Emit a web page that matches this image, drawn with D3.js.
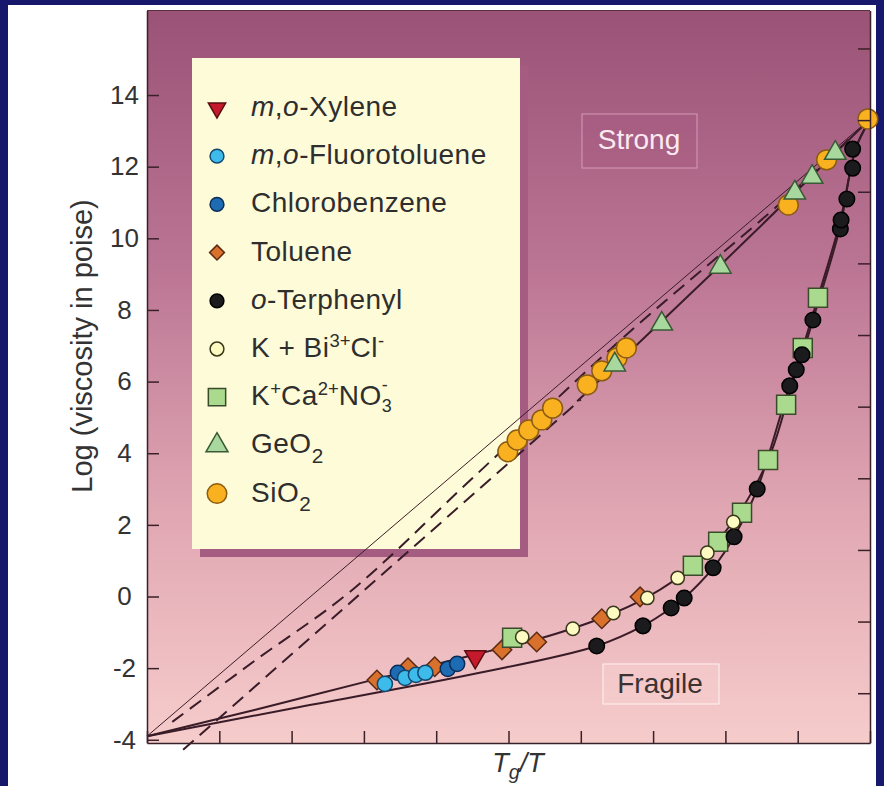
<!DOCTYPE html>
<meta charset="utf-8">
<style>
  body { margin: 0; background: #fff; }
  svg { display: block; }
  text { font-family: "Liberation Sans", Arial, Helvetica, sans-serif; }
</style>
<svg width="884" height="786"></svg>
<script src="https://cdn.jsdelivr.net/npm/d3@7"></script>
<script>

// data: [Tg/T, log viscosity in poise]
var xylene = [[0.454, -1.68]];
var fluorotoluene = [[0.329, -2.44], [0.357, -2.27], [0.372, -2.19], [0.385, -2.13]];
var chlorobenzene = [[0.347, -2.13], [0.416, -2.02], [0.429, -1.88]];
var toluene = [[0.318, -2.33], [0.361, -1.99], [0.398, -1.96], [0.491, -1.49], [0.539, -1.27], [0.629, -0.62], [0.682, -0.01]];
var terphenyl = [[0.622, -1.38], [0.686, -0.82], [0.725, -0.32], [0.743, -0.04], [0.783, 0.80], [0.812, 1.67], [0.844, 3.00],
                 [0.889, 5.88], [0.898, 6.33], [0.906, 6.75], [0.921, 7.72], [0.959, 10.26], [0.960, 10.51], [0.968, 11.10],
                 [0.976, 11.96], [0.976, 12.49]];
var kBiCl = [[0.519, -1.13], [0.589, -0.90], [0.645, -0.46], [0.692, -0.04], [0.734, 0.52], [0.775, 1.22], [0.811, 2.08]];
var kCaNO3 = [[0.505, -1.15], [0.755, 0.86], [0.790, 1.53], [0.823, 2.34], [0.859, 3.81], [0.884, 5.35], [0.907, 6.94], [0.928, 8.34]];
var geo2 = [[0.647, 6.47], [0.712, 7.61], [0.793, 9.20], [0.896, 11.27], [0.920, 11.71], [0.952, 12.38]];
var sio2 = [[0.499, 4.04], [0.512, 4.37], [0.528, 4.65], [0.546, 4.93], [0.561, 5.26], [0.609, 5.91], [0.629, 6.30],
            [0.650, 6.66], [0.663, 6.94], [0.887, 10.93], [0.940, 12.19], [0.997, 13.33]];

// guide curves
var thinLine = [[0, -3.9], [1, 13.33]];
var dashUpper = [[0.035, -3.5], [0.15, -1.78], [0.28, 0.12], [0.45, 3.3], [0.66, 7.25], [0.88, 11.05], [0.97, 12.75]];
var dashLower = [[0.05, -4.28], [0.6, 5.5]];
var strongLine = [[0.595, 5.45], [0.793, 9.25], [0.952, 12.38], [1, 13.33]];
var fragileUpper = [[0, -3.9], [0.15, -3.16], [0.318, -2.3], [0.454, -1.62], [0.539, -1.2], [0.629, -0.6], [0.692, -0.02],
                    [0.755, 0.86], [0.811, 2.1], [0.859, 3.81], [0.884, 5.35], [0.907, 6.94], [0.928, 8.34], [0.959, 10.5],
                    [0.972, 11.8], [0.981, 12.55], [1, 13.33]];
var fragileLower = [[0, -3.9], [0.202, -3.12], [0.46, -2.13], [0.622, -1.38], [0.686, -0.82], [0.725, -0.32], [0.743, -0.04],
                    [0.783, 0.8], [0.812, 1.67], [0.844, 3.0], [0.889, 5.88], [0.906, 6.75], [0.921, 7.72], [0.959, 10.35],
                    [0.972, 11.8], [0.981, 12.55], [1, 13.33]];

var yTicks = [-4, -2, 0, 2, 4, 6, 8, 10, 12, 14];
var yTicksRight = [-2.7, -0.7, 1.3, 3.3, 5.3, 7.3, 9.3, 11.3, 13.3, 15.3];
var xTicks = [0, 0.1, 0.2, 0.3, 0.4, 0.5, 0.6, 0.7, 0.8, 0.9, 1];

var legendLabels = [
    [["m", "i"], [","], ["o", "i"], ["-Xylene"]],
    [["m", "i"], [","], ["o", "i"], ["-Fluorotoluene"]],
    [["Chlorobenzene"]],
    [["Toluene"]],
    [["o", "i"], ["-Terphenyl"]],
    [["K + Bi"], ["3+", "sup"], ["Cl"], ["-", "sup"]],
    [["K"], ["+", "sup"], ["Ca"], ["2+", "sup"], ["NO"], ["3", "sub3"], ["-", "supback"]],
    [["GeO"], ["2", "sub"]],
    [["SiO"], ["2", "sub"]]
];

var svg = d3.select("svg");
var x = d3.scaleLinear().domain([0, 1]).range([147, 870]);
var y = d3.scaleLinear().domain([-4.09, 16.36]).range([743, 10.5]);

// outer frame
svg.append("rect").attr("x", 0).attr("y", 0).attr("width", 884).attr("height", 5).attr("fill", "#17176b");
svg.append("rect").attr("x", 0).attr("y", 0).attr("width", 8).attr("height", 786).attr("fill", "#17176b");
svg.append("rect").attr("x", 876).attr("y", 0).attr("width", 8).attr("height", 786).attr("fill", "#17176b");

var defs = svg.append("defs");
var grad = defs.append("linearGradient").attr("id", "bg").attr("x1", 0).attr("y1", 0).attr("x2", 0).attr("y2", 1);
[[0, "#9a5276"], [0.35, "#bb7594"], [0.68, "#e0a6b2"], [1, "#f6cccb"]].forEach(function(s) {
    grad.append("stop").attr("offset", s[0]).attr("stop-color", s[1]);
});

svg.append("rect")
    .attr("x", x(0)).attr("y", y(16.36))
    .attr("width", x(1) - x(0)).attr("height", y(-4.09) - y(16.36))
    .attr("fill", "url(#bg)");

// legend box with shadow
svg.append("rect").attr("x", 200).attr("y", 66).attr("width", 328).attr("height", 491).attr("fill", "#a45c80");
svg.append("rect").attr("x", 192).attr("y", 58).attr("width", 328).attr("height", 491).attr("fill", "#fefbd9");

// label boxes
svg.append("rect").attr("x", 582).attr("y", 114).attr("width", 115).attr("height", 54)
    .attr("fill", "#a75a80").attr("fill-opacity", 0.45).attr("stroke", "#d79ab6").attr("stroke-width", 1);
svg.append("text").attr("x", 639).attr("y", 149).attr("text-anchor", "middle")
    .style("font-size", "28px").attr("fill", "#fbe9f2").text("Strong");

svg.append("rect").attr("x", 603).attr("y", 664).attr("width", 116).attr("height", 40)
    .attr("fill", "#f8d0d0").attr("fill-opacity", 0.5).attr("stroke", "#fff3f3").attr("stroke-width", 1);
svg.append("text").attr("x", 660).attr("y", 693).attr("text-anchor", "middle")
    .style("font-size", "28px").attr("fill", "#3c3232").text("Fragile");

// lines
var line = d3.line().x(function(d) { return x(d[0]); }).y(function(d) { return y(d[1]); });
var curve = d3.line().x(function(d) { return x(d[0]); }).y(function(d) { return y(d[1]); }).curve(d3.curveCatmullRom);
var ink = "#3a1c28";

svg.append("path").datum(thinLine).attr("d", line).attr("fill", "none").attr("stroke", ink).attr("stroke-width", 1);
svg.append("path").datum(dashUpper).attr("d", curve).attr("fill", "none").attr("stroke", ink)
    .attr("stroke-width", 2).attr("stroke-dasharray", "14,8");
svg.append("path").datum(dashLower).attr("d", line).attr("fill", "none").attr("stroke", ink)
    .attr("stroke-width", 2).attr("stroke-dasharray", "14,8");
svg.append("path").datum(strongLine).attr("d", curve).attr("fill", "none").attr("stroke", ink).attr("stroke-width", 2);
svg.append("path").datum(fragileUpper).attr("d", curve).attr("fill", "none").attr("stroke", ink).attr("stroke-width", 2);
svg.append("path").datum(fragileLower).attr("d", curve).attr("fill", "none").attr("stroke", ink).attr("stroke-width", 2);

// marker styles
var styles = {
    toluene:  { shape: d3.symbolSquare, size: 190, rot: 45, fill: "#d9712c", stroke: "#5c2a12" },
    chloro:   { shape: d3.symbolCircle, size: 180, rot: 0, fill: "#1d6cb3", stroke: "#0c2c55" },
    fluoro:   { shape: d3.symbolCircle, size: 180, rot: 0, fill: "#3dbbea", stroke: "#14476f" },
    xylene:   { shape: d3.symbolTriangle, size: 190, rot: 180, fill: "#c41a2c", stroke: "#5a0e12" },
    kCaNO3:   { shape: d3.symbolSquare, size: 361, rot: 0, fill: "#a9da8e", stroke: "#3b4a2a" },
    otp:      { shape: d3.symbolCircle, size: 190, rot: 0, fill: "#1b1a1d", stroke: "#000" },
    kBiCl:    { shape: d3.symbolCircle, size: 140, rot: 0, fill: "#fdfbc2", stroke: "#3a381a" },
    sio2:     { shape: d3.symbolCircle, size: 310, rot: 0, fill: "#f9b11f", stroke: "#8c5c12" },
    geo2:     { shape: d3.symbolTriangle, size: 200, rot: 0, fill: "#a8d89e", stroke: "#3a5a36" }
};

function drawSeries(data, st) {
    svg.append("g").selectAll("path").data(data).enter().append("path")
        .attr("d", d3.symbol().type(st.shape).size(st.size))
        .attr("transform", function(d) { return "translate(" + x(d[0]) + "," + y(d[1]) + ") rotate(" + st.rot + ")"; })
        .attr("fill", st.fill).attr("stroke", st.stroke).attr("stroke-width", 1.5);
}

drawSeries(toluene, styles.toluene);
drawSeries(chlorobenzene, styles.chloro);
drawSeries(fluorotoluene, styles.fluoro);
drawSeries(xylene, styles.xylene);
drawSeries(kCaNO3, styles.kCaNO3);
drawSeries(terphenyl, styles.otp);
drawSeries(kBiCl, styles.kBiCl);
drawSeries(sio2, styles.sio2);
drawSeries(geo2, styles.geo2);

// axes
var gy = svg.append("g").attr("transform", "translate(" + x(0) + ",0)")
    .call(d3.axisLeft(y).tickValues(yTicks).tickSizeInner(-12).tickSizeOuter(0).tickFormat(function(d) { return String(d); }));
gy.selectAll("text").attr("x", -22.5).attr("text-anchor", "middle").style("font-size", "26px").attr("fill", "#333");

var gr = svg.append("g").attr("transform", "translate(" + x(1) + ",0)")
    .call(d3.axisRight(y).tickValues(yTicksRight).tickSizeInner(-12).tickSizeOuter(0).tickFormat(""));

var gx = svg.append("g").attr("transform", "translate(0," + y(-4.09) + ")")
    .call(d3.axisBottom(x).tickValues(xTicks).tickSizeInner(-12).tickSizeOuter(0).tickFormat(""));

[gy, gr, gx].forEach(function(g) {
    g.selectAll("path, line").attr("stroke", "#3a2028").attr("stroke-width", 1.5);
});
svg.append("line").attr("x1", x(0)).attr("x2", x(1)).attr("y1", y(16.36)).attr("y2", y(16.36))
    .attr("stroke", "#5a3040").attr("stroke-width", 1);

// axis titles
svg.append("text").attr("transform", "translate(92,346) rotate(-90)").attr("text-anchor", "middle")
    .style("font-size", "29px").attr("fill", "#333").text("Log (viscosity in poise)");

var xt = svg.append("text").attr("x", 518).attr("y", 772).attr("text-anchor", "middle")
    .style("font-size", "27px").attr("fill", "#333").attr("font-style", "italic");
xt.append("tspan").text("T");
xt.append("tspan").attr("dy", 7).style("font-size", "20px").text("g");
xt.append("tspan").attr("dy", -7).text("/T");

// legend
function addRich(sel, parts, size) {
    var shift = 0;
    parts.forEach(function(p) {
        var t = sel.append("tspan").text(p[0]);
        var target = 0, fs = null, dx = 0;
        if (p[1] === "i") t.attr("font-style", "italic");
        if (p[1] === "sup") { target = -0.36 * size; fs = 0.66 * size; }
        if (p[1] === "sub") { target = 0.34 * size; fs = 0.74 * size; }
        if (p[1] === "sub3") { target = 0.26 * size; fs = 0.64 * size; }
        if (p[1] === "supback") { target = -0.5 * size; fs = 0.64 * size; dx = -0.36 * size; }
        t.attr("dy", target - shift);
        shift = target;
        if (fs) t.style("font-size", fs + "px").style("letter-spacing", "0px");
        if (dx) t.attr("dx", dx);
    });
}

var legendStyles = [
    { st: styles.xylene, size: 130 },
    { st: styles.fluoro, size: 150 },
    { st: styles.chloro, size: 150 },
    { st: styles.toluene, size: 110 },
    { st: styles.otp, size: 150 },
    { st: styles.kBiCl, size: 150 },
    { st: styles.kCaNO3, size: 300 },
    { st: styles.geo2, size: 210 },
    { st: styles.sio2, size: 300 }
];

legendLabels.forEach(function(parts, i) {
    var cy = 108 + i * 48.2;
    var ls = legendStyles[i];
    svg.append("path")
        .attr("d", d3.symbol().type(ls.st.shape).size(ls.size))
        .attr("transform", "translate(217," + cy + ") rotate(" + ls.st.rot + ")")
        .attr("fill", ls.st.fill).attr("stroke", ls.st.stroke).attr("stroke-width", 1.5);
    var t = svg.append("text").attr("x", 251).attr("y", cy + 8)
        .style("font-size", "28px").style("letter-spacing", "0.5px").attr("fill", "#2e2e2e");
    addRich(t, parts, 28);
});

</script>
